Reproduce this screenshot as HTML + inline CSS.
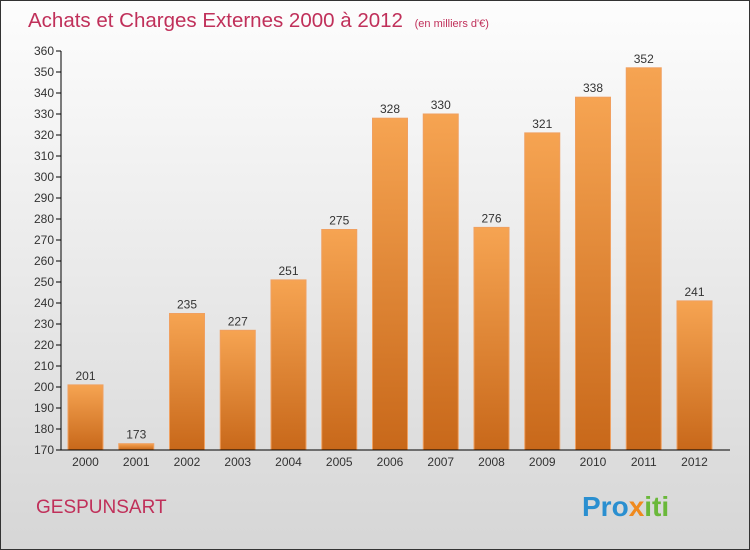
<!DOCTYPE html>
<html><head><meta charset="utf-8"><style>
body{margin:0;}
svg{display:block;font-family:"Liberation Sans",sans-serif;}
</style></head><body>
<svg id="c" width="750" height="550" xmlns="http://www.w3.org/2000/svg">
<defs>
<linearGradient id="bg" x1="0" y1="0" x2="0" y2="1"><stop offset="0" stop-color="#fdfdfd"/><stop offset="1" stop-color="#d6d6d6"/></linearGradient>
<linearGradient id="bar" x1="0" y1="0" x2="0" y2="1"><stop offset="0" stop-color="#f6a452"/><stop offset="1" stop-color="#c8681a"/></linearGradient>
</defs>
<rect x="0.5" y="0.5" width="749" height="549" fill="url(#bg)" stroke="#333"/>
<text x="28" y="27" font-size="20.5" fill="#c0305a">Achats et Charges Externes 2000 à 2012 <tspan font-size="11" dx="6">(en milliers d'€)</tspan></text>
<text x="36" y="513" font-size="19" fill="#c0305a">GESPUNSART</text>
<text x="582" y="516" font-size="28" font-weight="bold"><tspan fill="#2a8fd0">Pro</tspan><tspan fill="#f08a1e">x</tspan><tspan fill="#6ab83a">iti</tspan></text>
<g id="plot"></g>
</svg>
<script>
const years=["2000","2001","2002","2003","2004","2005","2006","2007","2008","2009","2010","2011","2012"];
const values=[201,173,235,227,251,275,328,330,276,321,338,352,241];
const ticks=[170,180,190,200,210,220,230,240,250,260,270,280,290,300,310,320,330,340,350,360];
const NS="http://www.w3.org/2000/svg";
const g=document.getElementById('plot');
const y=v=>450-(v-170)*2.1;
const xl=i=>68+i*50.75;
function mk(t,a,p){const e=document.createElementNS(NS,t);for(const k in a)e.setAttribute(k,a[k]);(p||g).appendChild(e);return e;}
ticks.forEach(t=>{
 const l=mk('line',{x1:56,x2:61,y1:y(t),y2:y(t),stroke:'#000'});
 
 
 const tx=mk('text',{x:54,y:y(t)+4,'text-anchor':'end','font-size':12,fill:'#333'});tx.textContent=t;
 
 
});
values.forEach((v,i)=>{
 const r=mk('rect',{x:xl(i),y:y(v),width:35,height:450-y(v),fill:'url(#bar)',stroke:'#f0a060','stroke-width':1});
 
 
 const lb=mk('text',{x:xl(i)+17.5,y:y(v)-5,'text-anchor':'middle','font-size':12,fill:'#333'});lb.textContent=v;
 
 
 const xt=mk('text',{x:xl(i)+17.5,y:466,'text-anchor':'middle','font-size':12,fill:'#333'});xt.textContent=years[i];
 
 
});
const ya=mk('line',{x1:61,x2:61,y1:y(360),y2:450,stroke:'#000'});


const xa=mk('line',{x1:61,x2:730,y1:450,y2:450,stroke:'#000'});


</script>
</body></html>
